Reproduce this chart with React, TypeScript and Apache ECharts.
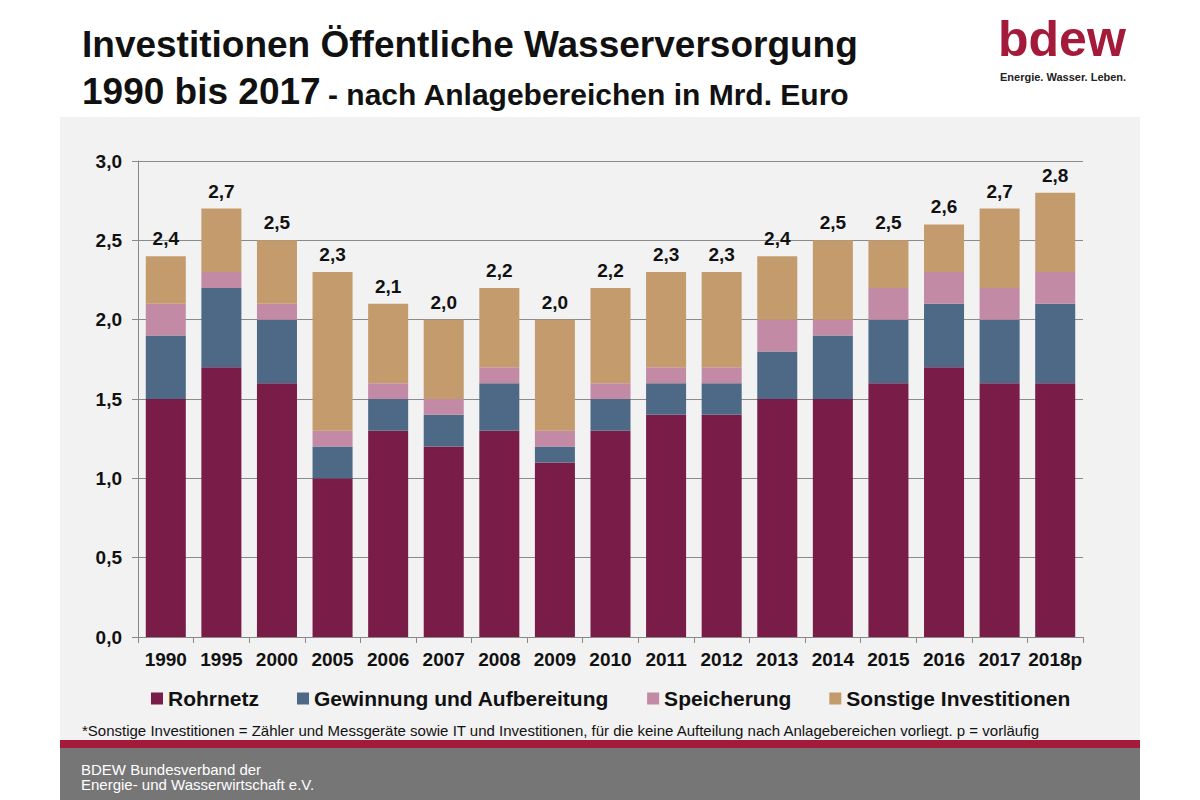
import React, { useEffect, useRef } from "react";
import * as echarts from "echarts";

const categories = ["1990", "1995", "2000", "2005", "2006", "2007", "2008", "2009", "2010", "2011", "2012", "2013", "2014", "2015", "2016", "2017", "2018p"];
const rohrnetz = [1.5, 1.7, 1.6, 1.0, 1.3, 1.2, 1.3, 1.1, 1.3, 1.4, 1.4, 1.5, 1.5, 1.6, 1.7, 1.6, 1.6];
const gewinnung = [0.4, 0.5, 0.4, 0.2, 0.2, 0.2, 0.3, 0.1, 0.2, 0.2, 0.2, 0.3, 0.4, 0.4, 0.4, 0.4, 0.5];
const speicherung = [0.2, 0.1, 0.1, 0.1, 0.1, 0.1, 0.1, 0.1, 0.1, 0.1, 0.1, 0.2, 0.1, 0.2, 0.2, 0.2, 0.2];
const sonstige = [0.3, 0.4, 0.4, 1.0, 0.5, 0.5, 0.5, 0.7, 0.6, 0.6, 0.6, 0.4, 0.5, 0.3, 0.3, 0.5, 0.5];
const totals = [2.4, 2.7, 2.5, 2.3, 2.1, 2.0, 2.2, 2.0, 2.2, 2.3, 2.3, 2.4, 2.5, 2.5, 2.6, 2.7, 2.8];
const yTicks = [0, 0.5, 1.0, 1.5, 2.0, 2.5, 3.0];

const FONT = "'Liberation Sans', Arial, sans-serif";
const fmt = (v: number) => v.toFixed(1).replace(".", ",");

export default function App() {
  const ref = useRef<HTMLDivElement>(null);
  useEffect(() => {
    if (!ref.current) return;
    const chart = echarts.init(ref.current, null, { renderer: "svg" });
    const mk = (name: string, data: number[], color: string, withTotals = false) => ({
      name,
      type: "bar",
      stack: "total",
      data,
      barWidth: "72%",
      itemStyle: { color },
      label: withTotals
        ? {
            show: true,
            position: "top",
            distance: 8,
            color: "#111",
            fontFamily: FONT,
            fontWeight: "bold",
            fontSize: 19,
            formatter: (p: any) => fmt(totals[p.dataIndex]),
          }
        : { show: false },
    });
    chart.setOption({
      animation: false,
      backgroundColor: "#ffffff",
      textStyle: { fontFamily: FONT },
      graphic: [
        { type: "rect", z: -10, shape: { x: 60, y: 117, width: 1080, height: 625 }, style: { fill: "#f2f2f2" } },
        { type: "rect", z: -10, shape: { x: 60, y: 740, width: 1080, height: 8 }, style: { fill: "#a31a3a" } },
        { type: "rect", z: -10, shape: { x: 60, y: 748, width: 1080, height: 52 }, style: { fill: "#767676" } },
        {
          type: "text", left: 82, top: 26,
          style: { text: "Investitionen Öffentliche Wasserversorgung", font: `bold 37px ${FONT}`, fill: "#111" },
        },
        {
          type: "text", left: 82, top: 73,
          style: { text: "1990 bis 2017", font: `bold 37px ${FONT}`, fill: "#111" },
        },
        {
          type: "text", left: 328, top: 79,
          style: { text: "- nach Anlagebereichen in Mrd. Euro", font: `bold 30px ${FONT}`, fill: "#111" },
        },
        {
          type: "text", left: 998, top: 14,
          style: { text: "bdew", font: `bold 50px ${FONT}`, fill: "#a31a3a" },
        },
        {
          type: "text", left: 1000, top: 71,
          style: { text: "Energie. Wasser. Leben.", font: `bold 11px ${FONT}`, fill: "#222" },
        },
        {
          type: "text", left: 82, top: 723,
          style: { text: "*Sonstige Investitionen = Zähler und Messgeräte sowie IT und Investitionen, für die keine Aufteilung nach Anlagebereichen vorliegt. p = vorläufig", font: `15px ${FONT}`, fill: "#111" },
        },
        {
          type: "text", left: 81, top: 762,
          style: { text: "BDEW Bundesverband der\nEnergie- und Wasserwirtschaft e.V.", font: `15px ${FONT}`, fill: "#ffffff", lineHeight: 15 },
        },
      ],
      grid: { left: 138, right: 117, top: 161, bottom: 163 },
      legend: {
        left: 146,
        top: 683,
        icon: "rect",
        itemWidth: 12,
        itemHeight: 12,
        itemGap: 38,
        textStyle: { fontFamily: FONT, fontWeight: "bold", fontSize: 21, color: "#111" },
        data: ["Rohrnetz", "Gewinnung und Aufbereitung", "Speicherung", "Sonstige Investitionen"],
      },
      xAxis: {
        type: "category",
        data: categories,
        axisLine: { lineStyle: { color: "#888" } },
        axisTick: { show: true, length: 6, lineStyle: { color: "#888" } },
        axisLabel: { interval: 0, color: "#111", fontWeight: "bold", fontSize: 19, margin: 13, fontFamily: FONT },
      },
      yAxis: {
        type: "value",
        min: 0,
        max: 3,
        interval: 0.5,
        axisLine: { show: true, lineStyle: { color: "#888" } },
        axisTick: { show: true, length: 6, lineStyle: { color: "#888" } },
        splitLine: { lineStyle: { color: "#8a8a8a", width: 1 } },
        axisLabel: {
          color: "#111", fontWeight: "bold", fontSize: 19, margin: 16, fontFamily: FONT,
          formatter: (v: number) => (yTicks.includes(v) ? fmt(v) : ""),
        },
      },
      series: [
        mk("Rohrnetz", rohrnetz, "#7a1c48"),
        mk("Gewinnung und Aufbereitung", gewinnung, "#4e6986"),
        mk("Speicherung", speicherung, "#c28aa5"),
        mk("Sonstige Investitionen", sonstige, "#c49b6d", true),
      ],
    });
    return () => chart.dispose();
  }, []);
  return (
    <div
      ref={ref}
      style={{ position: "fixed", left: 0, top: 0, width: 1200, height: 800 }}
    />
  );
}
